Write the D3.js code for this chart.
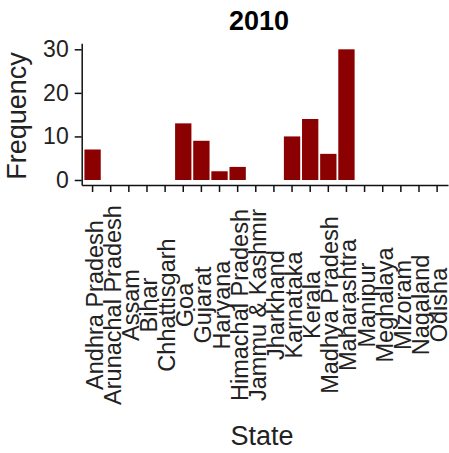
<!DOCTYPE html>
<html>
<head>
<meta charset="utf-8">
<script src="https://cdn.jsdelivr.net/npm/d3@7"></script>
<style>
  body { margin: 0; background: #fff; }
  text { font-family: "Liberation Sans", Arial, sans-serif; }
</style>
</head>
<body>
<div id="plot"></div>
<script>
// data
var states = ["Andhra Pradesh", "Arunachal Pradesh", "Assam", "Bihar", "Chhattisgarh",
  "Goa", "Gujarat", "Haryana", "Himachal Pradesh", "Jammu & Kashmir", "Jharkhand",
  "Karnataka", "Kerala", "Madhya Pradesh", "Maharashtra", "Manipur", "Meghalaya",
  "Mizoram", "Nagaland", "Odisha"];
var frequency = [7, 0, 0, 0, 0, 13, 9, 2, 3, 0, 0, 10, 14, 6, 30, 0, 0, 0, 0, 0];
var yTicks = [0, 10, 20, 30];
var title = "2010";

var width = 449, height = 453;
var panel = {left: 81.7, right: 448, top: 43.3, bottom: 185};

var svg = d3.select("#plot").append("svg")
    .attr("width", width)
    .attr("height", height);

// scales
var x = d3.scaleBand()
    .domain(states)
    .range([panel.left, panel.right])
    .paddingInner(0.1)
    .paddingOuter(0.15);
var y = d3.scaleLinear()
    .domain([-1.15, 31.38])
    .range([panel.bottom, panel.top]);

// bars
svg.selectAll("rect.bar")
    .data(states)
  .enter().append("rect")
    .attr("class", "bar")
    .filter(function(d, i) { return frequency[i] > 0; })
    .attr("x", function(d) { return x(d); })
    .attr("width", x.bandwidth())
    .attr("y", function(d) { return y(frequency[states.indexOf(d)]); })
    .attr("height", function(d) { return y(0) - y(frequency[states.indexOf(d)]); })
    .attr("fill", "#8b0000");

// y axis
var yAxis = svg.append("g")
    .attr("transform", "translate(" + panel.left + ",0)")
    .call(d3.axisLeft(y).tickValues(yTicks).tickSize(7).tickPadding(6).tickSizeOuter(0));
yAxis.select(".domain").attr("stroke", "#111").attr("stroke-width", 1.5);
yAxis.selectAll(".tick line").attr("stroke", "#111").attr("stroke-width", 1.5);
yAxis.selectAll(".tick text")
    .attr("font-size", 23)
    .attr("font-family", "Liberation Sans, Arial, sans-serif")
    .attr("fill", "#222");

// x axis
var xAxis = svg.append("g")
    .attr("transform", "translate(0," + panel.bottom + ")")
    .call(d3.axisBottom(x).tickSize(7).tickSizeOuter(0));
xAxis.select(".domain").attr("stroke", "#111").attr("stroke-width", 1.5);
xAxis.selectAll(".tick line").attr("stroke", "#111").attr("stroke-width", 1.5);
xAxis.selectAll(".tick text").remove();

// rotated state labels, centred vertically
svg.append("g").selectAll("text")
    .data(states)
  .enter().append("text")
    .attr("transform", function(d) {
      return "translate(" + (x(d) + x.bandwidth() / 2) + ",305) rotate(-90)";
    })
    .attr("y", 10)
    .attr("text-anchor", "middle")
    .attr("font-size", 23.5)
    .attr("fill", "#222")
    .text(function(d) { return d; });

// title
svg.append("text")
    .attr("x", 259)
    .attr("y", 30)
    .attr("text-anchor", "middle")
    .attr("font-size", 27)
    .attr("font-weight", "bold")
    .text(title);

// axis titles
svg.append("text")
    .attr("x", 262)
    .attr("y", 445)
    .attr("text-anchor", "middle")
    .attr("font-size", 27)
    .attr("fill", "#222")
    .text("State");

svg.append("text")
    .attr("transform", "translate(26,116) rotate(-90)")
    .attr("text-anchor", "middle")
    .attr("font-size", 27)
    .attr("fill", "#222")
    .text("Frequency");
</script>
</body>
</html>
